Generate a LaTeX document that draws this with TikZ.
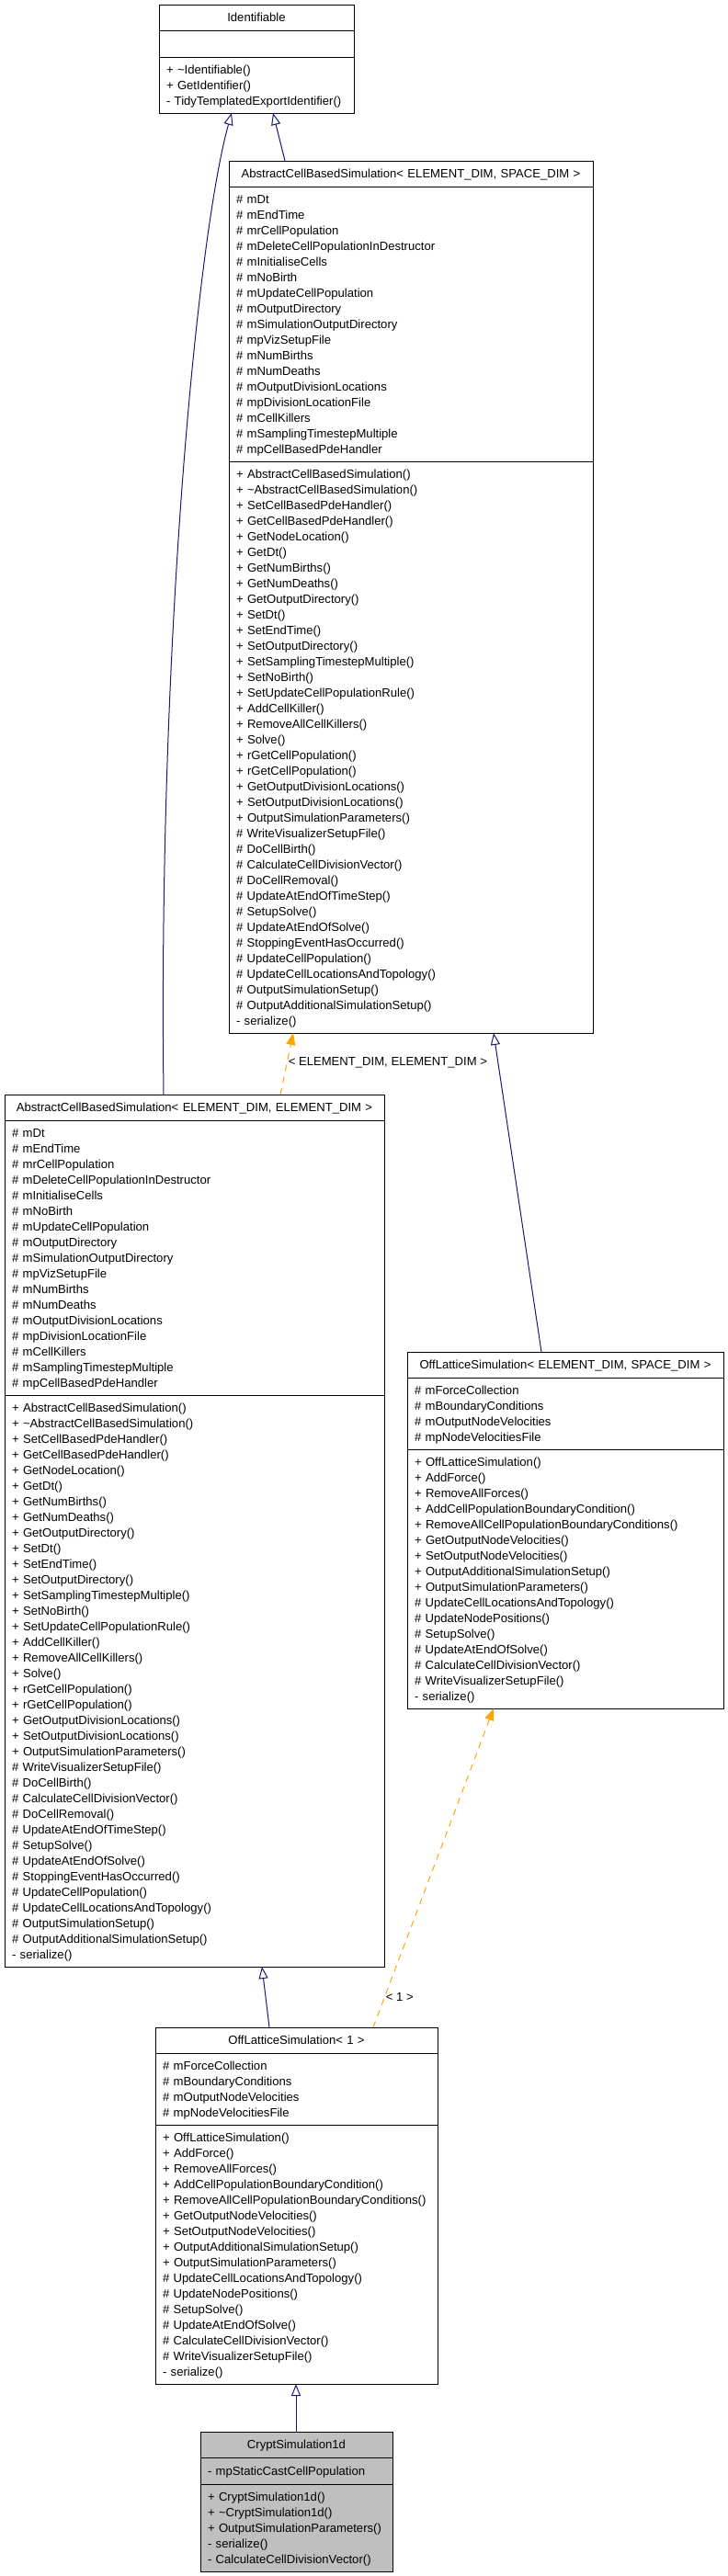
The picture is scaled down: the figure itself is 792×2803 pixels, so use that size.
\documentclass[tikz,border=0pt]{standalone}
\usepackage{fontspec}
\setmainfont{Liberation Sans}
\usetikzlibrary{positioning,arrows.meta}
\definecolor{edgeblue}{RGB}{25, 25, 112}
\definecolor{edgeorange}{RGB}{255, 165, 0}
\definecolor{cellgray}{RGB}{191, 191, 191}
\hyphenpenalty=10000
\exhyphenpenalty=10000

\newcommand{\umlstrut}{\rule[-3.8pt]{0pt}{17pt}}
\newcommand{\acbsattrs}{\# mDt\\ \# mEndTime\\ \# mrCellPopulation\\ \# mDeleteCellPopulationInDestructor\\ \# mInitialiseCells\\ \# mNoBirth\\ \# mUpdateCellPopulation\\ \# mOutputDirectory\\ \# mSimulationOutputDirectory\\ \# mpVizSetupFile\\ \# mNumBirths\\ \# mNumDeaths\\ \# mOutputDivisionLocations\\ \# mpDivisionLocationFile\\ \# mCellKillers\\ \# mSamplingTimestepMultiple\\ \# mpCellBasedPdeHandler}
\newcommand{\acbsops}{+ AbstractCellBasedSimulation()\\ + \textasciitilde AbstractCellBasedSimulation()\\ + SetCellBasedPdeHandler()\\ + GetCellBasedPdeHandler()\\ + GetNodeLocation()\\ + GetDt()\\ + GetNumBirths()\\ + GetNumDeaths()\\ + GetOutputDirectory()\\ + SetDt()\\ + SetEndTime()\\ + SetOutputDirectory()\\ + SetSamplingTimestepMultiple()\\ + SetNoBirth()\\ + SetUpdateCellPopulationRule()\\ + AddCellKiller()\\ + RemoveAllCellKillers()\\ + Solve()\\ + rGetCellPopulation()\\ + rGetCellPopulation()\\ + GetOutputDivisionLocations()\\ + SetOutputDivisionLocations()\\ + OutputSimulationParameters()\\ \# WriteVisualizerSetupFile()\\ \# DoCellBirth()\\ \# CalculateCellDivisionVector()\\ \# DoCellRemoval()\\ \# UpdateAtEndOfTimeStep()\\ \# SetupSolve()\\ \# UpdateAtEndOfSolve()\\ \# StoppingEventHasOccurred()\\ \# UpdateCellPopulation()\\ \# UpdateCellLocationsAndTopology()\\ \# OutputSimulationSetup()\\ \# OutputAdditionalSimulationSetup()\\ - serialize()}
\newcommand{\olsattrs}{\# mForceCollection\\ \# mBoundaryConditions\\ \# mOutputNodeVelocities\\ \# mpNodeVelocitiesFile}
\newcommand{\olsops}{+ OffLatticeSimulation()\\ + AddForce()\\ + RemoveAllForces()\\ + AddCellPopulationBoundaryCondition()\\ + RemoveAllCellPopulationBoundaryConditions()\\ + GetOutputNodeVelocities()\\ + SetOutputNodeVelocities()\\ + OutputAdditionalSimulationSetup()\\ + OutputSimulationParameters()\\ \# UpdateCellLocationsAndTopology()\\ \# UpdateNodePositions()\\ \# SetupSolve()\\ \# UpdateAtEndOfSolve()\\ \# CalculateCellDivisionVector()\\ \# WriteVisualizerSetupFile()\\ - serialize()}

\begin{document}
\begin{tikzpicture}[
    x=1pt, y=-1pt,
    cell/.style={
        draw,
        line width=1pt,
        fill=white,
        font=\fontsize{13.1}{17}\selectfont,
        inner xsep=8pt,
        outer sep=0pt,
        node distance=0pt,
        text width=#1,
        execute at begin node=\umlstrut,
        execute at end node=\umlstrut
    },
    namecell/.style={cell=#1, align=center, inner ysep=5.5pt, minimum height=28pt},
    membercell/.style={cell=#1, align=left, inner ysep=5pt},
    graycell/.style={fill=cellgray},
    inherit/.style={draw=edgeblue, line width=1pt, -{Triangle[open, length=13pt, width=10pt]}},
    template/.style={draw=edgeorange, line width=1pt, dash pattern=on 7pt off 6pt, -{Triangle[length=13pt, width=10pt]}},
    tlabel/.style={font=\fontsize{13.1}{17}\selectfont, inner sep=1pt}
]
\useasboundingbox (0,0) rectangle (792,2803);

% Identifiable
\node[namecell=196pt, anchor=north west] (ident) at (173,5) {Identifiable};
\node[membercell=196pt, below=of ident, minimum height=29pt] (identattr) {};
\node[membercell=196pt, below=of identattr] (identops) {+ \textasciitilde Identifiable()\\ + GetIdentifier()\\ - TidyTemplatedExportIdentifier()};

% AbstractCellBasedSimulation< ELEMENT_DIM, SPACE_DIM >
\node[namecell=380pt, anchor=north west] (acbs) at (249,175) {AbstractCellBasedSimulation< ELEMENT\_DIM, SPACE\_DIM >};
\node[membercell=380pt, below=of acbs] (acbsattr) {\acbsattrs};
\node[membercell=380pt, below=of acbsattr] (acbsops) {\acbsops};

% AbstractCellBasedSimulation< ELEMENT_DIM, ELEMENT_DIM >
\node[namecell=397pt, anchor=north west] (acbsee) at (5,1191) {AbstractCellBasedSimulation< ELEMENT\_DIM, ELEMENT\_DIM >};
\node[membercell=397pt, below=of acbsee] (acbseeattr) {\acbsattrs};
\node[membercell=397pt, below=of acbseeattr] (acbseeops) {\acbsops};

% OffLatticeSimulation< ELEMENT_DIM, SPACE_DIM >
\node[namecell=328pt, anchor=north west] (ols) at (443,1471) {OffLatticeSimulation< ELEMENT\_DIM, SPACE\_DIM >};
\node[membercell=328pt, below=of ols] (olsattr) {\olsattrs};
\node[membercell=328pt, below=of olsattr] (olsops) {\olsops};

% OffLatticeSimulation< 1 >
\node[namecell=291pt, anchor=north west] (olsone) at (169,2206) {OffLatticeSimulation< 1 >};
\node[membercell=291pt, below=of olsone] (olsoneattr) {\olsattrs};
\node[membercell=291pt, below=of olsoneattr] (olsoneops) {\olsops};

% CryptSimulation1d
\node[namecell=193pt, graycell, anchor=north west] (crypt) at (218,2646) {CryptSimulation1d};
\node[membercell=193pt, graycell, below=of crypt, minimum height=29pt] (cryptattr) {- mpStaticCastCellPopulation};
\node[membercell=193pt, graycell, below=of cryptattr] (cryptops) {+ CryptSimulation1d()\\ + \textasciitilde CryptSimulation1d()\\ + OutputSimulationParameters()\\ - serialize()\\ - CalculateCellDivisionVector()};

% edges
\draw[inherit] ([xshift=61pt]acbs.north west) -- ([xshift=124pt]identops.south west);
\draw[inherit] ([xshift=173pt]acbsee.north west) .. controls +(-6,-490) and +(-37,132) .. ([xshift=79pt]identops.south west);
\draw[template] ([xshift=300pt]acbsee.north west) -- node[pos=0.52, anchor=west, tlabel] {< ELEMENT\_DIM, ELEMENT\_DIM >} ([xshift=70pt]acbsops.south west);
\draw[inherit] ([xshift=146pt]ols.north west) -- ([xshift=288pt]acbsops.south west);
\draw[inherit] ([xshift=124pt]olsone.north west) -- ([xshift=280pt]acbseeops.south west);
\draw[template] ([xshift=237pt]olsone.north west) -- node[pos=0.095, anchor=west, tlabel] {< 1 >} ([xshift=94pt]olsops.south west);
\draw[inherit] ([xshift=104pt]crypt.north west) -- ([xshift=153pt]olsoneops.south west);

\end{tikzpicture}
\end{document}
